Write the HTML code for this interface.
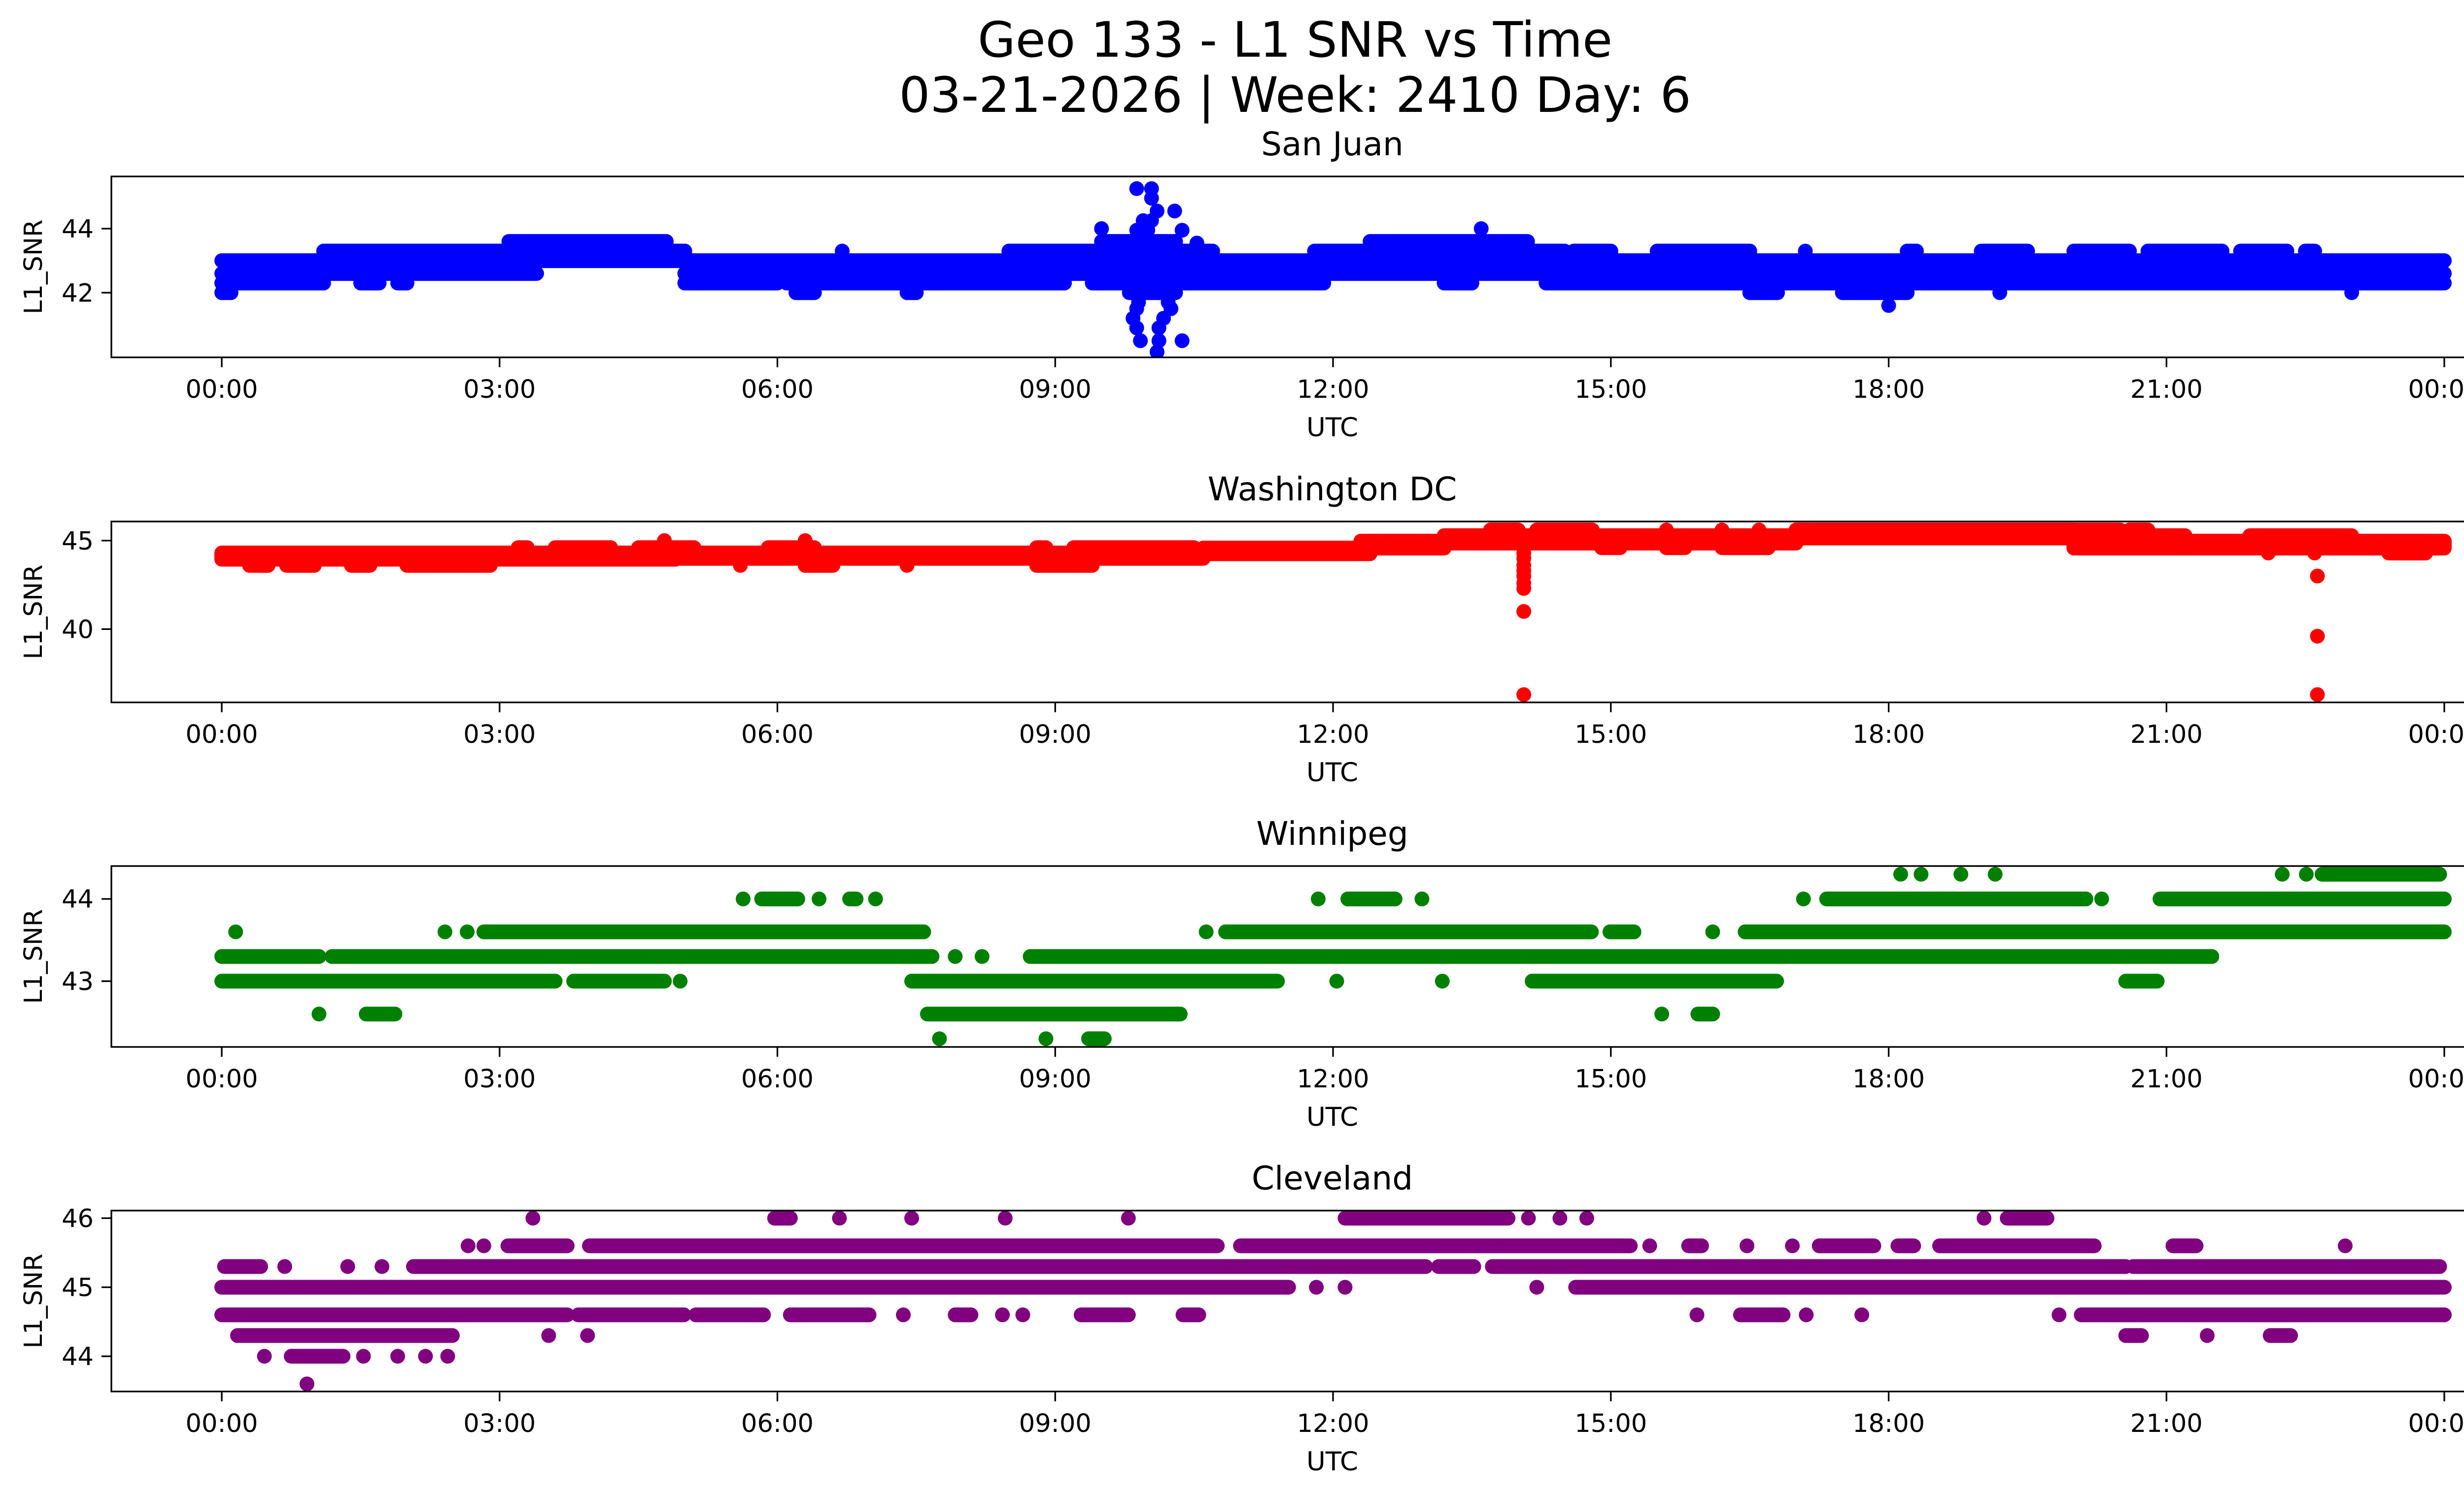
<!DOCTYPE html>
<html><head><meta charset="utf-8"><style>
html,body{margin:0;padding:0;background:#fff}
svg{display:block;font-family:"DejaVu Sans","Liberation Sans",sans-serif}
</style></head><body>
<svg id="fig" width="5225" height="3033" viewBox="0 0 5225 3033" xmlns="http://www.w3.org/2000/svg">
<rect width="5225" height="3033" fill="#fff"/>
<text x="2628" y="115" font-size="99" text-anchor="middle">Geo 133 - L1 SNR vs Time</text>
<text x="2628" y="227" font-size="99" text-anchor="middle">03-21-2026 | Week: 2410 Day: 6</text>
</svg>
<script>
// ---- data (hours UTC, SNR values) ----
const xTickLabels = ["00:00","03:00","06:00","09:00","12:00","15:00","18:00","21:00","00:00"];
const xTickHours = [0,3,6,9,12,15,18,21,24];
const panelTitles = ["San Juan","Washington DC","Winnipeg","Cleveland"];
const panelColors = ["#0000ff","#ff0000","#008000","#800080"];
const sjTicks = [42,44];
const dcTicks = [40,45];
const wpTicks = [43,44];
const clTicks = [44,45,46];
// level segments: [SNR, startHour, endHour]
const sjSegs = [[43.0,0,24],[42.6,0,3.4],[42.6,5.0,24],[42.3,0,1.1],[42.3,1.5,1.7],[42.3,1.9,2.0],[42.3,5.0,6.0],[42.3,6.1,9.1],[42.3,9.4,11.9],[42.3,13.2,13.5],[42.3,14.3,24],
 [42.0,0,0.1],[42.0,6.2,6.4],[42.0,7.4,7.5],[42.0,9.8,10.3],[42.0,16.5,16.8],[42.0,17.5,18.2],[42.0,19.2,19.2],[42.0,23.0,23.0],[41.6,18.0,18.0],
 [43.3,1.1,5.0],[43.3,6.7,6.7],[43.3,8.5,10.7],[43.3,11.8,14.5],[43.3,14.6,15.0],[43.3,15.5,16.5],[43.3,17.1,17.1],[43.3,18.2,18.3],[43.3,19.0,19.5],[43.3,20.0,20.6],[43.3,20.8,21.6],[43.3,21.8,22.3],[43.3,22.5,22.6],
 [43.6,3.1,4.8],[43.6,9.5,10.3],[43.6,12.4,14.1],[44.0,13.6,13.6],[44.0,9.5,9.5]];
// single points: [hour, SNR]
const sjPoints = [[9.88,45.25],[10.04,45.25],[10.04,44.95],[10.10,44.55],[10.29,44.55],[10.04,44.25],[9.95,44.25],[9.88,43.95],[10.0,43.95],[10.37,43.95],[10.53,43.55],[9.88,41.95],[10.20,41.95],[9.88,41.5],[10.25,41.5],[9.84,41.2],[10.17,41.2],[9.88,40.9],[10.12,40.9],[9.92,40.5],[10.12,40.5],[10.37,40.5],[10.10,40.15],[9.9,41.7],[10.22,41.7]];
// bands: [startHour, endHour, lowSNR, highSNR]
const dcBands = [[0,2.4,43.95,44.3],[2.4,4.9,43.95,44.3],[4.9,10.6,44.0,44.3],[10.6,12.4,44.26,44.58],[12.3,13.2,44.58,44.97],[13.2,17.0,44.86,45.28],[17.0,20.0,45.15,45.6],[20.0,21.2,44.58,45.28],[21.2,24,44.58,44.97]];
const dcSegs = [[43.6,0.3,0.5],[43.6,0.7,1.0],[43.6,1.4,1.6],[43.6,2.0,2.9],[43.6,5.6,5.6],[43.6,6.3,6.6],[43.6,7.4,7.4],[43.6,8.8,9.4],
 [44.6,3.2,3.3],[44.6,3.6,4.2],[44.6,4.5,5.1],[44.6,5.9,6.4],[44.6,8.8,8.9],[44.6,9.2,10.5],
 [45.6,13.7,14.0],[45.6,14.2,14.8],[45.6,15.6,15.6],[45.6,16.2,16.2],[45.6,16.6,16.6],[45.6,17.0,20.5],[45.6,20.6,20.8],
 [44.6,14.9,15.1],[44.6,15.6,15.8],[44.6,16.2,16.7],[44.3,22.1,22.1],[44.3,22.6,22.6],[44.3,23.4,23.8],[45.28,21.9,23.0]];
const dcPoints = [[14.06,44.3],[14.06,44.0],[14.06,43.6],[14.06,43.3],[14.06,43.0],[14.06,42.6],[14.06,42.3],[14.06,41.0],[14.06,36.3],[22.63,43.0],[22.63,39.6],[22.63,36.3],[4.78,45.0],[6.3,45.0]];
const wpSegs = [[44.3,18.13,18.13],[44.3,18.35,18.35],[44.3,18.78,18.78],[44.3,19.15,19.15],[44.3,22.25,22.25],[44.3,22.51,22.51],[44.3,22.68,23.95],
 [44.0,5.63,5.63],[44.0,5.83,6.22],[44.0,6.45,6.45],[44.0,6.78,6.85],[44.0,7.06,7.06],[44.0,11.84,11.84],[44.0,12.16,12.67],[44.0,12.96,12.96],[44.0,17.08,17.08],[44.0,17.33,20.13],[44.0,20.3,20.3],[44.0,20.93,24],
 [43.6,0.15,0.15],[43.6,2.41,2.41],[43.6,2.65,2.65],[43.6,2.83,7.58],[43.6,10.63,10.63],[43.6,10.84,14.79],[43.6,14.99,15.25],[43.6,16.1,16.1],[43.6,16.45,24],
 [43.3,0,1.05],[43.3,1.19,7.67],[43.3,7.92,7.92],[43.3,8.21,8.21],[43.3,8.73,21.49],
 [43.0,0,3.6],[43.0,3.8,4.78],[43.0,4.95,4.95],[43.0,7.45,11.4],[43.0,12.04,12.04],[43.0,13.18,13.18],[43.0,14.15,16.79],[43.0,20.56,20.9],
 [42.6,1.05,1.05],[42.6,1.56,1.87],[42.6,7.62,10.35],[42.6,15.55,15.55],[42.6,15.94,16.1],
 [42.3,7.75,7.75],[42.3,8.9,8.9],[42.3,9.36,9.53]];
const clSegs = [[46.0,3.36,3.36],[46.0,5.97,6.14],[46.0,6.67,6.67],[46.0,7.45,7.45],[46.0,8.46,8.46],[46.0,9.79,9.79],[46.0,12.13,13.89],[46.0,14.11,14.11],[46.0,14.45,14.45],[46.0,14.74,14.74],[46.0,19.03,19.03],[46.0,19.28,19.71],
 [45.6,2.66,2.66],[45.6,2.83,2.83],[45.6,3.09,3.73],[45.6,3.97,10.75],[45.6,11.0,15.21],[45.6,15.42,15.42],[45.6,15.84,15.98],[45.6,16.47,16.47],[45.6,16.96,16.96],[45.6,17.25,17.84],[45.6,18.1,18.27],[45.6,18.55,20.22],[45.6,21.07,21.32],[45.6,22.93,22.93],
 [45.3,0.03,0.42],[45.3,0.68,0.68],[45.3,1.36,1.36],[45.3,1.73,1.73],[45.3,2.07,13.0],[45.3,13.14,13.52],[45.3,13.72,20.56],[45.3,20.64,23.95],
 [45.0,0,11.52],[45.0,11.82,11.82],[45.0,12.13,12.13],[45.0,14.2,14.2],[45.0,14.62,24],
 [44.6,0,3.73],[44.6,3.85,4.99],[44.6,5.12,5.85],[44.6,6.14,6.99],[44.6,7.36,7.36],[44.6,7.92,8.09],[44.6,8.43,8.43],[44.6,8.65,8.65],[44.6,9.28,9.79],[44.6,10.38,10.55],[44.6,15.93,15.93],[44.6,16.4,16.86],[44.6,17.11,17.11],[44.6,17.71,17.71],[44.6,19.84,19.84],[44.6,20.08,24],
 [44.3,0.17,2.49],[44.3,3.53,3.53],[44.3,3.95,3.95],[44.3,20.56,20.73],[44.3,21.44,21.44],[44.3,22.12,22.34],
 [44.0,0.46,0.46],[44.0,0.75,1.31],[44.0,1.53,1.53],[44.0,1.9,1.9],[44.0,2.2,2.2],[44.0,2.44,2.44],[43.6,0.92,0.92]];

const panels = [
 {top:358,bottom:725,ymin:39.98,ymax:45.63,ticks:sjTicks,bands:[],points:sjPoints,segs:sjSegs},
 {top:1058,bottom:1425,ymin:35.86,ymax:46.08,ticks:dcTicks,bands:dcBands,points:dcPoints,segs:dcSegs},
 {top:1757,bottom:2124,ymin:42.2,ymax:44.4,ticks:wpTicks,bands:[],points:[],segs:wpSegs},
 {top:2456,bottom:2823,ymin:43.49,ymax:46.11,ticks:clTicks,bands:[],points:[],segs:clSegs}
];
const L=226,R=5181,X0=450,X1=4960,MS=30;
const NS="http://www.w3.org/2000/svg";
const svg=document.getElementById('fig');
function xs(h){return X0+(X1-X0)*h/24;}
function mk(tag,attrs,parent){const e=document.createElementNS(NS,tag);for(const k in attrs)e.setAttribute(k,attrs[k]);(parent||svg).appendChild(e);return e;}
panels.forEach((p,i)=>{
 const ys=v=>p.bottom-(v-p.ymin)/(p.ymax-p.ymin)*(p.bottom-p.top);
 const g=mk('g',{});
 
 
 const c=panelColors[i];
 const clip=mk('clipPath',{id:'clip'+i},g);
 mk('rect',{x:L,y:p.top,width:R-L,height:p.bottom-p.top},clip);
 const dg=mk('g',{'clip-path':'url(#clip'+i+')'},g);
 
 
 p.bands.forEach(b=>{
  const y1=ys(b[3]),y2=ys(b[2]);
  const r=mk('rect',{x:xs(b[0])-MS/2,y:y1-MS/2,width:xs(b[1])-xs(b[0])+MS,height:y2-y1+MS,rx:MS/2,fill:c},dg);
  
  
 });
 p.segs.forEach(s=>{
  const y=ys(s[0]);
  const l=mk('line',{x1:xs(s[1]),x2:xs(s[2]),y1:y,y2:y,stroke:c,'stroke-width':MS,'stroke-linecap':'round'},dg);
  
  
 });
 p.points.forEach(pt=>{
  const ci=mk('circle',{cx:xs(pt[0]),cy:ys(pt[1]),r:MS/2,fill:c},dg);
  
  
 });
 const fr=mk('rect',{x:L,y:p.top,width:R-L,height:p.bottom-p.top,fill:'none',stroke:'#000','stroke-width':3.3},g);
 
 
 xTickHours.forEach((h,j)=>{
  const x=xs(h);
  mk('line',{x1:x,x2:x,y1:p.bottom,y2:p.bottom+20,stroke:'#000','stroke-width':3.3},g);
  const t=mk('text',{x:x,y:p.bottom+82,'font-size':51,'text-anchor':'middle'},g);
  t.textContent=xTickLabels[j];
  
  
 });
 p.ticks.forEach(v=>{
  const y=ys(v);
  mk('line',{x1:L-20,x2:L,y1:y,y2:y,stroke:'#000','stroke-width':3.3},g);
  const t=mk('text',{x:L-36,y:y+18,'font-size':51,'text-anchor':'end'},g);
  t.textContent=v;
  
  
 });
 const xl=mk('text',{x:(L+R)/2,y:p.bottom+160,'font-size':53,'text-anchor':'middle'},g);
 xl.textContent='UTC';
 
 
 const yc=(p.top+p.bottom)/2;
 const yl=mk('text',{x:85,y:yc,'font-size':51,'text-anchor':'middle',transform:'rotate(-90 85 '+yc+')'},g);
 yl.textContent='L1_SNR';
 
 
 const tt=mk('text',{x:(L+R)/2,y:p.top-43,'font-size':66,'text-anchor':'middle'},g);
 tt.textContent=panelTitles[i];
 
 
});
</script>
</body></html>
